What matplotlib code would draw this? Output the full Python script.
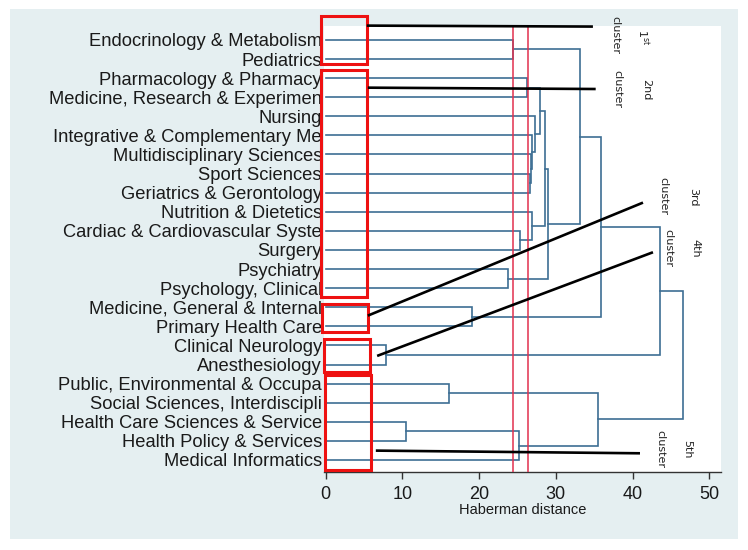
import matplotlib
matplotlib.use("Agg")
import matplotlib.pyplot as plt
from matplotlib.patches import Rectangle

# ---------------- data ----------------
leaves = [
    "Endocrinology & Metabolism", "Pediatrics", "Pharmacology & Pharmacy",
    "Medicine, Research & Experimen", "Nursing", "Integrative & Complementary Me",
    "Multidisciplinary Sciences", "Sport Sciences", "Geriatrics & Gerontology",
    "Nutrition & Dietetics", "Cardiac & Cardiovascular Syste", "Surgery",
    "Psychiatry", "Psychology, Clinical", "Medicine, General & Internal",
    "Primary Health Care", "Clinical Neurology", "Anesthesiology",
    "Public, Environmental & Occupa", "Social Sciences, Interdiscipli",
    "Health Care Sciences & Service", "Health Policy & Services",
    "Medical Informatics",
]
# merges: node id = 23 + index
merge_left = [0, 2, 7, 6, 5, 4, 24, 10, 9, 29, 12, 32, 23, 14, 35, 16, 37, 18, 20, 41, 40, 39]
merge_right = [1, 3, 8, 25, 26, 27, 28, 11, 30, 31, 13, 33, 34, 15, 36, 17, 38, 19, 21, 22, 42, 43]
merge_height = [24.40, 26.26, 26.62, 26.71, 26.84, 27.27, 27.92, 25.31, 26.84, 28.57,
                23.79, 29.00, 33.13, 19.06, 35.83, 7.82, 43.55, 16.10, 10.42, 25.22,
                35.44, 46.51]
cut_lines = [24.36, 26.39]
x_ticks = [0, 10, 20, 30, 40, 50]

# annotation overlay (data coords)
red_boxes = [(-0.6, 5.42, -1.27, 1.27), (-0.6, 5.42, 1.57, 13.45),
             (-0.52, 5.55, 13.83, 15.31), (-0.18, 5.77, 15.68, 17.38),
             (-0.09, 5.90, 17.55, 22.53)]
black_lines = [((5.37, 34.82), (-0.75, -0.70)), ((5.51, 35.18), (2.50, 2.57)),
               ((5.51, 41.34), (14.44, 8.52)), ((6.72, 42.64), (16.55, 11.12)),
               ((6.55, 40.95), (21.51, 21.65))]
ordinal_texts = [r"1$^{\mathregular{st}}$", "2nd", "3rd", "4th", "5th"]
ordinal_pos = [(41.34, -0.16), (41.73, 2.59), (47.85, 8.25), (48.11, 10.9), (47.07, 21.42)]
cluster_pos = [(37.69, -0.26), (37.95, 2.57), (43.94, 8.20), (44.59, 10.9), (43.55, 21.42)]

# ---------------- figure ----------------
fig = plt.figure(figsize=(7.48, 5.50), dpi=100, facecolor="white")
fig.patches.append(Rectangle((10 / 748, 11 / 550), 728 / 748, 530 / 550,
                             transform=fig.transFigure, facecolor="#e5eff1",
                             edgecolor="none", zorder=-5))
ax = fig.add_axes([324 / 748, 78 / 550, 397 / 748, 446 / 550])
ax.set_facecolor("white")

dcol = "#3d6e94"
n = len(leaves)
pos = {i: (0.0, float(i)) for i in range(n)}
for k, (a, b, h) in enumerate(zip(merge_left, merge_right, merge_height)):
    xa, ya = pos[a]
    xb, yb = pos[b]
    ax.plot([xa, h, h, xb], [ya, ya, yb, yb], color=dcol, lw=1.2,
            solid_joinstyle="miter", zorder=2)
    pos[n + k] = (h, (ya + yb) / 2)

for c in cut_lines:
    ax.axvline(c, color="#e2304e", lw=1.1, zorder=3)

ax.set_xlim(-0.2, 51.5)
ax.set_ylim(22.63, -0.73)
ax.set_yticks(range(n))
ax.set_yticklabels(leaves, fontsize=13.2, family="Liberation Sans", color="#1a1a1a")
ax.tick_params(axis="y", length=0, pad=1.5)
ax.set_xticks(x_ticks)
ax.set_xticklabels([str(t) for t in x_ticks], fontsize=13, family="Liberation Sans",
                   color="#1a1a1a")
ax.tick_params(axis="x", length=5, width=1, color="#333333", pad=5)
ax.set_xlabel("Haberman distance", fontsize=10.5, family="Liberation Sans",
              color="#1a1a1a", labelpad=0)
for s in ["top", "right", "left"]:
    ax.spines[s].set_visible(False)
ax.spines["bottom"].set_color("#333333")
ax.spines["bottom"].set_linewidth(1.0)

for (x0, x1, y0, y1) in red_boxes:
    ax.add_patch(Rectangle((x0, y0), x1 - x0, y1 - y0, fill=False,
                           edgecolor="#ee1111", lw=2.2, clip_on=False, zorder=5))
for xs, ys in black_lines:
    ax.plot(xs, ys, color="black", lw=1.9, clip_on=False, zorder=6,
            solid_capstyle="butt")
for t, (x, y) in zip(ordinal_texts, ordinal_pos):
    ax.text(x, y, t, rotation=-90, ha="center", va="center", fontsize=8,
            family="DejaVu Sans", color="#222222", clip_on=False)
for (x, y) in cluster_pos:
    ax.text(x, y, "cluster", rotation=-90, ha="center", va="center", fontsize=8,
            family="DejaVu Sans", color="#222222", clip_on=False)

fig.savefig("out.png", dpi=100, facecolor="white")
